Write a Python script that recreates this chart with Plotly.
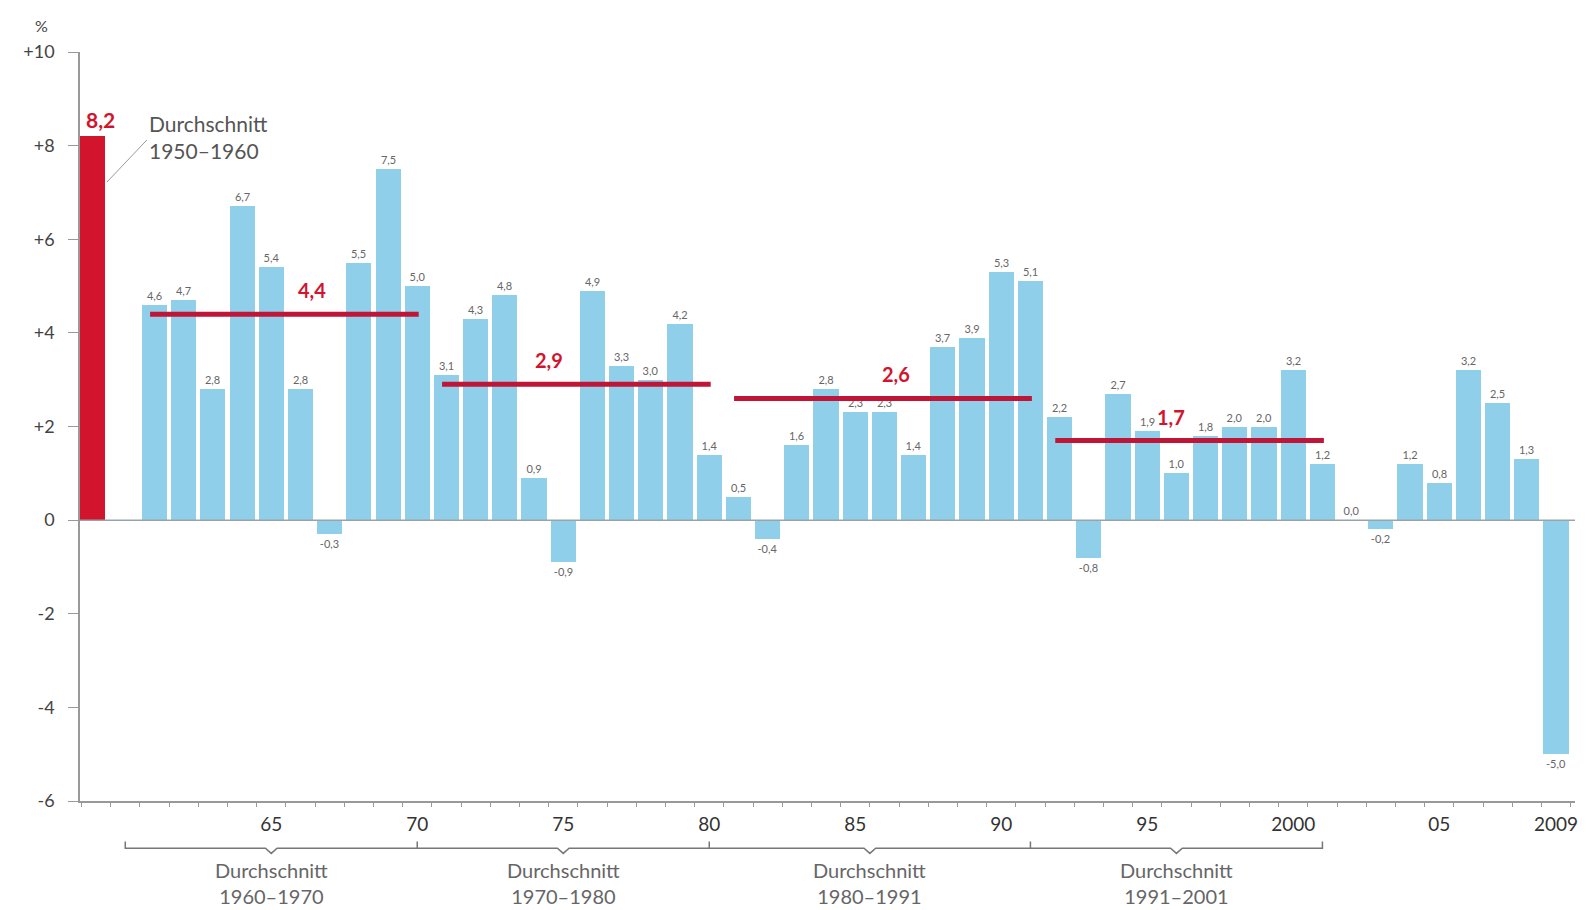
import plotly.graph_objects as go

# Annual change of real GDP, in percent
years = list(range(1961, 2010))
growth = [
    4.6, 4.7, 2.8, 6.7, 5.4, 2.8, -0.3, 5.5, 7.5, 5.0,   # 1961-1970
    3.1, 4.3, 4.8, 0.9, -0.9, 4.9, 3.3, 3.0, 4.2, 1.4,   # 1971-1980
    0.5, -0.4, 1.6, 2.8, 2.3, 2.3, 1.4, 3.7, 3.9, 5.3,   # 1981-1990
    5.1, 2.2, -0.8, 2.7, 1.9, 1.0, 1.8, 2.0, 2.0, 3.2,   # 1991-2000
    1.2, 0.0, -0.2, 1.2, 0.8, 3.2, 2.5, 1.3, -5.0,       # 2001-2009
]

# Average of the 1950s, drawn as a separate bar left of 1961
avg_1950s_label = "1950–1960"
avg_1950s_value = 8.2
avg_1950s_pos = 1958.87

# Period averages
period_start = [1960, 1970, 1980, 1991]
period_end = [1970, 1980, 1991, 2001]
period_avg = [4.4, 2.9, 2.6, 1.7]
period_label_x = [1966.4, 1974.5, 1986.4, 1995.8]

tick_years = [1965, 1970, 1975, 1980, 1985, 1990, 1995, 2000, 2005, 2009]
tick_text = ["65", "70", "75", "80", "85", "90", "95", "2000", "05", "2009"]
y_ticks = [-6, -4, -2, 0, 2, 4, 6, 8, 10]
y_tick_text = ["-6", "-4", "-2", "0", "+2", "+4", "+6", "+8", "+10"]

BLUE = "#8fcfe9"
RED = "#d2142d"
LINE_RED = "#bf1638"
GREY = "#999999"
TEXT = "#555555"
FONT = "Lato, 'Open Sans', sans-serif"


def de(v):
    return f"{v:.1f}".replace(".", ",")


fig = go.Figure()

fig.add_trace(go.Bar(
    x=years, y=growth, width=0.86,
    marker=dict(color=BLUE, line=dict(width=0)),
    text=[de(v) for v in growth], textposition="outside",
    textfont=dict(size=11, color="#666666", family=FONT),
    constraintext="none", cliponaxis=False, showlegend=False,
))

fig.add_trace(go.Bar(
    x=[avg_1950s_pos], y=[avg_1950s_value], width=0.86,
    marker=dict(color=RED, line=dict(width=0)),
    showlegend=False,
))
fig.add_annotation(
    x=avg_1950s_pos, y=avg_1950s_value, yanchor="bottom", xshift=8, yshift=2,
    text=f"<b>{de(avg_1950s_value)}</b>", showarrow=False,
    font=dict(size=21, color=RED, family=FONT),
)

# Period average lines and their labels
for s, e, a, lx in zip(period_start, period_end, period_avg, period_label_x):
    fig.add_trace(go.Scatter(
        x=[s + 0.85, e + 0.05], y=[a, a], mode="lines",
        line=dict(color=LINE_RED, width=5), showlegend=False, hoverinfo="skip",
    ))
    fig.add_annotation(
        x=lx, y=a, text=f"<b>{de(a)}</b>", showarrow=False, yshift=24,
        font=dict(size=20, color=RED, family=FONT),
    )

# Zero line on top of the bars
fig.add_shape(type="line", xref="x", yref="y", x0=1958.45, x1=2009.65, y0=0, y1=0,
              line=dict(color="#9aa4a8", width=1.5), layer="above")

# Bracket beneath the axis grouping the averaging periods
by = -0.063
path = f"M {period_start[0]},{by + 0.009} L {period_start[0]},{by} "
for s, e in zip(period_start, period_end):
    m = (s + e) / 2
    path += f"L {m - 0.2},{by} L {m},{by - 0.007} L {m + 0.2},{by} L {e},{by} "
    path += f"L {e},{by + 0.009} M {e},{by} "
fig.add_shape(type="path", xref="x", yref="paper", path=path,
              line=dict(color="#777777", width=1.5))

for s, e in zip(period_start, period_end):
    fig.add_annotation(
        x=(s + e) / 2, y=by - 0.010, xref="x", yref="paper", yanchor="top",
        text=f"Durchschnitt<br>{s}–{e}", showarrow=False,
        font=dict(size=20, color="#666666", family=FONT),
    )

# Caption for the 1950s average bar
fig.add_annotation(
    x=1960.74, y=8.18, xanchor="left", yanchor="middle",
    text=f"Durchschnitt<br>{avg_1950s_label}", showarrow=False, align="left",
    font=dict(size=21, color=TEXT, family=FONT),
)
fig.add_shape(type="line", xref="x", yref="y", x0=1959.37, y0=7.22, x1=1960.74, y1=8.12,
              line=dict(color=GREY, width=1))

# Unit label
fig.add_annotation(
    x=-0.026, y=1.036, xref="paper", yref="paper", yanchor="middle", xanchor="center",
    text="%", showarrow=False,
    font=dict(size=16, color="#444444", family=FONT),
)

fig.update_layout(
    width=1589, height=910,
    margin=dict(l=80, r=11, t=52, b=109),
    paper_bgcolor="white", plot_bgcolor="white",
    bargap=0, barmode="overlay",
    font=dict(family=FONT, color="#444444"),
    xaxis=dict(
        range=[1958.45, 2009.65], showgrid=False, zeroline=False,
        showline=True, linecolor=GREY, linewidth=1.5,
        tickvals=tick_years, ticktext=tick_text, ticks="", ticklabelstandoff=5,
        tickfont=dict(size=19, color="#333333", family=FONT),
        minor=dict(tick0=1960.5, dtick=1, ticks="outside", ticklen=4,
                   tickcolor=GREY, showgrid=False),
    ),
    yaxis=dict(
        range=[-6, 10], showgrid=False, zeroline=False,
        showline=True, linecolor=GREY, linewidth=1.5,
        tickvals=y_ticks, ticktext=y_tick_text,
        ticks="outside", ticklen=10, tickcolor=GREY, ticklabelstandoff=10,
        tickfont=dict(size=18, color="#444444", family=FONT),
    ),
)

fig.write_html("out.html")
